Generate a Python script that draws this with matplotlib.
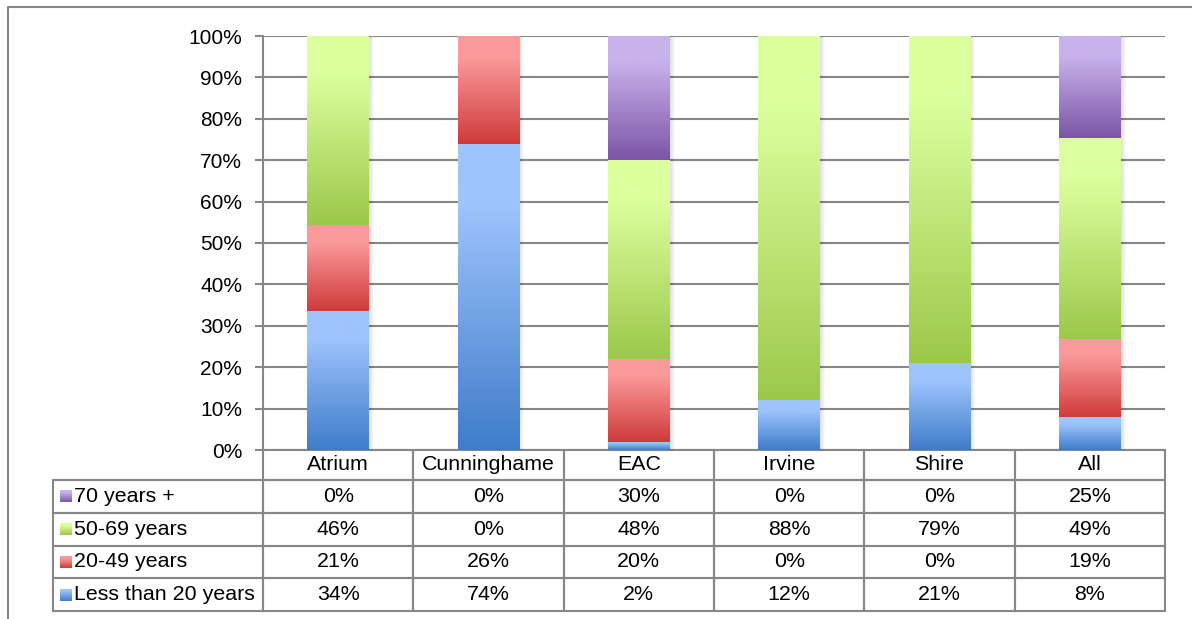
import matplotlib
matplotlib.use("Agg")

import numpy as np
import matplotlib.pyplot as plt
from matplotlib.colors import LinearSegmentedColormap
from matplotlib.patches import Rectangle
from matplotlib.lines import Line2D
from matplotlib.table import Table

plt.rcParams['font.family'] = ['Liberation Sans', 'DejaVu Sans']

# data (percent of each site)
sites = ["Atrium", "Cunninghame", "EAC", "Irvine", "Shire", "All"]
under_20 = [34, 74, 2, 12, 21, 8]
y20_49 = [21, 26, 20, 0, 0, 19]
y50_69 = [46, 0, 48, 88, 79, 49]
y70_plus = [0, 0, 30, 0, 0, 25]

series_names = ["Less than 20 years", "20-49 years", "50-69 years", "70 years +"]
series_vals = [under_20, y20_49, y50_69, y70_plus]
# (light top, dark bottom) gradient colours
series_cols = [("#9ec4fc", "#3f7cc9"),
               ("#fb9a9a", "#cf3a3a"),
               ("#dcff9e", "#9cc84a"),
               ("#c9b3ec", "#7b55a5")]

W, H = 1192, 619
fig = plt.figure(figsize=(W / 100, H / 100), dpi=100)
ax_l, ax_r, ax_t, ax_b = 263, 1165, 36, 450
ax = fig.add_axes([ax_l / W, 1 - ax_b / H, (ax_r - ax_l) / W, (ax_b - ax_t) / H])

vals = np.array(series_vals, dtype=float)
totals = vals.sum(axis=0)
pct = vals / totals * 100

x = np.arange(len(sites))
bw = 0.41
grid_col = "#878787"

def grad_cmap(top, bot):
    return LinearSegmentedColormap.from_list("g", [(0, bot), (0.8, top), (1, top)])

grad = np.linspace(0, 1, 256).reshape(-1, 1)

# soft shadow to the right of each column
px = 1.0 / 150.33
for xi in x:
    for k in range(1, 6):
        ax.add_patch(Rectangle((xi - bw / 2 + k * px, 0 - k * 0.05), bw, 100,
                               facecolor="black", alpha=0.025, lw=0, zorder=2))

bottom = np.zeros(len(sites))
for vals_i, (top, bot) in zip(pct, series_cols):
    bars = ax.bar(x, vals_i, bw, bottom=bottom, color=bot, lw=0, zorder=3)
    cmap = grad_cmap(top, bot)
    for b in bars:
        if b.get_height() <= 0:
            continue
        x0, y0 = b.get_x(), b.get_y()
        im = ax.imshow(grad, cmap=cmap, origin="lower", aspect="auto",
                       extent=(x0, x0 + b.get_width(), y0, y0 + b.get_height()),
                       zorder=4, interpolation="bilinear")
        im.set_clip_path(b)
    bottom += vals_i

ax.set_xlim(-0.5, len(sites) - 0.5)
ax.set_ylim(0, 100)
ax.set_yticks(np.arange(0, 101, 10))
ax.set_yticklabels([f"{v}%" for v in range(0, 101, 10)])
ax.set_xticks([])
ax.yaxis.grid(True, color=grid_col, lw=1.5, zorder=0)
ax.set_axisbelow(True)
for s in ["top", "right", "bottom"]:
    ax.spines[s].set_visible(False)
ax.spines["left"].set_color(grid_col)
ax.spines["left"].set_linewidth(1.5)
ax.tick_params(axis="y", direction="out", length=6, width=1.5, color=grid_col,
               labelsize=15, pad=9)

# data table under the chart
tab_l, tab_b = 53, 611
col0_w, col_w = 210, (ax_r - ax_l) / len(sites)
head_h, row_h = 30, (tab_b - ax_b - 30) / 4
tbl = Table(ax, bbox=[(tab_l - ax_l) / (ax_r - ax_l), -(tab_b - ax_b) / (ax_b - ax_t),
                      (ax_r - tab_l) / (ax_r - ax_l), (tab_b - ax_b) / (ax_b - ax_t)])
c = tbl.add_cell(0, 0, col0_w, head_h, text="")
c.visible_edges = ""
for j, s in enumerate(sites):
    tbl.add_cell(0, j + 1, col_w, head_h, text=s, loc="center")
rows_top_down = list(range(len(series_names)))[::-1]
for r, si in enumerate(rows_top_down, start=1):
    tbl.add_cell(r, 0, col0_w, row_h, text=series_names[si], loc="left")
    for j in range(len(sites)):
        tbl.add_cell(r, j + 1, col_w, row_h, text=f"{series_vals[si][j]}%", loc="center")
tbl.auto_set_font_size(False)
tbl.set_fontsize(15.4)
for cell in tbl.get_celld().values():
    cell.set_edgecolor(grid_col)
    cell.set_linewidth(1.5)
    cell.set_facecolor("none")
ax.add_table(tbl)

# legend swatches in the table's first column
sw = 12
for r, si in enumerate(rows_top_down, start=1):
    cy = ax_b + head_h + (r - 0.5) * row_h
    sax = fig.add_axes([60 / W, 1 - (cy + sw / 2) / H, sw / W, sw / H])
    top, bot = series_cols[si]
    sax.imshow(grad, cmap=grad_cmap(top, bot), origin="lower", aspect="auto",
               interpolation="bilinear")
    sax.axis("off")

# outer chart frame (left and top edges)
fig.add_artist(Line2D([8 / W, 8 / W, 1], [0, 1 - 7 / H, 1 - 7 / H],
                      transform=fig.transFigure, color=grid_col, lw=1.5))

fig.savefig("out.png", dpi=100)
